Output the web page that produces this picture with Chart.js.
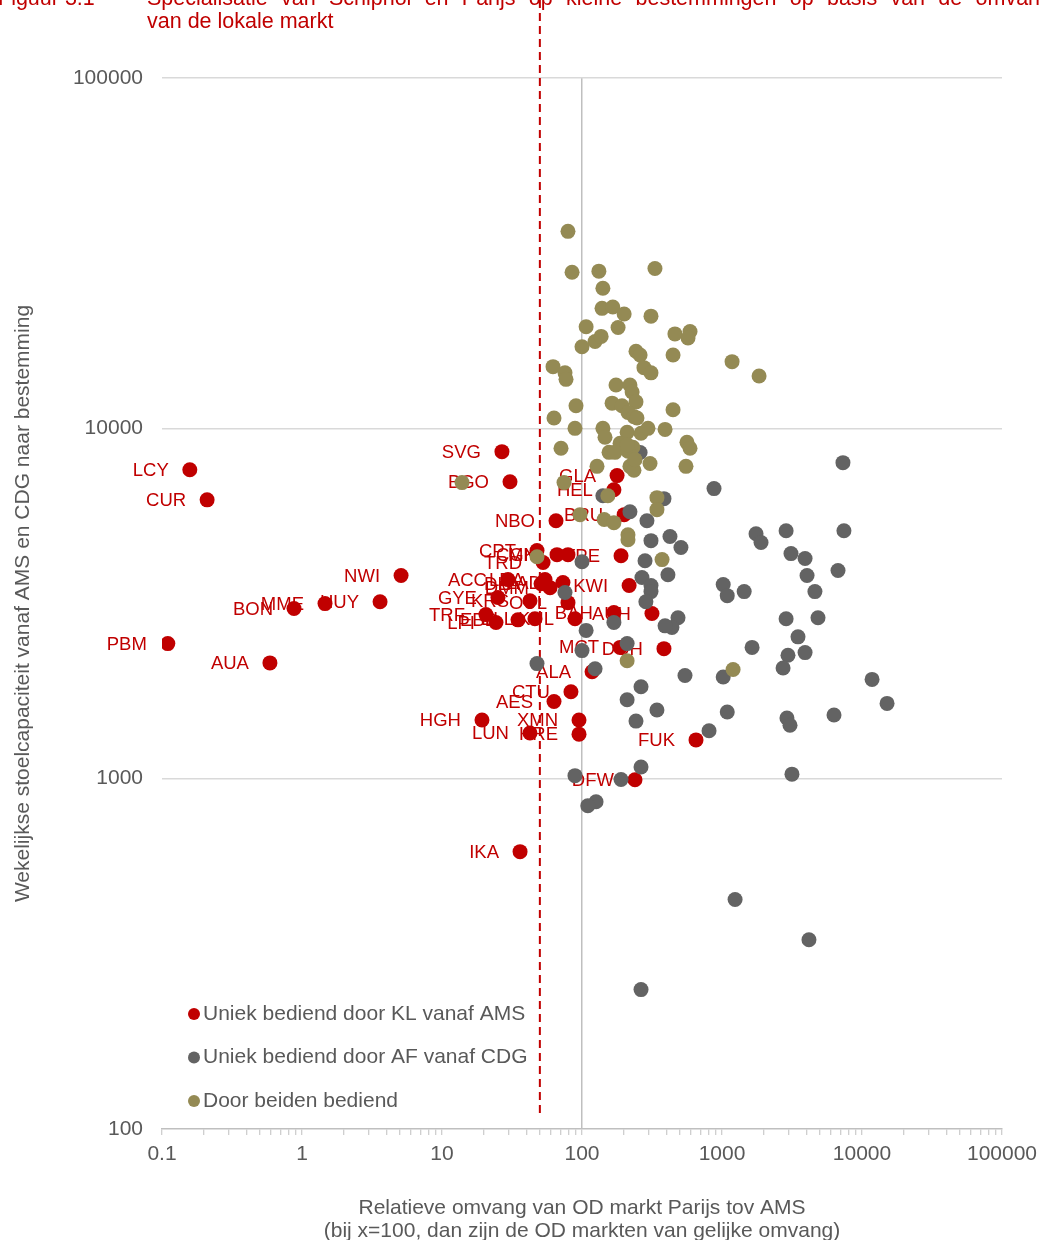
<!DOCTYPE html>
<html lang="nl">
<head>
<meta charset="utf-8">
<title>Specialisatie van Schiphol en Parijs</title>
<script src="https://cdn.jsdelivr.net/npm/chart.js@4.4.1/dist/chart.umd.min.js"></script>
<style>
  html, body { margin: 0; padding: 0; background: #ffffff; }
  .wrapper { width: 1040px; height: 1240px; position: relative; }
</style>
</head>
<body>
<div class="wrapper"><canvas id="chart"></canvas></div>
<script>
// KL: alleen vanaf AMS (met luchthavencode)
const klCodes = ["LCY","CUR","PBM","AUA","BON","MME","HUY","NWI","SVG","BGO","NBO","GLA","HEL","BRU","TPE","CPT","CGK","MNL","TRD","LBA","ACC","DMM","DLA","LAD","KWI","GYE","KRS","OUL","TRF","LPI","EBB","BLL","KUL","BAH","AUH","MCT","DOH","ALA","CTU","AES","HGH","XMN","LUN","HRE","FUK","DFW","IKA"];
const klX = [0.158,0.21,0.11,0.59,0.877,1.46,3.61,5.1,26.8,30.6,65.2,178,169,200,190,47.7,66.3,79.4,52.7,54.4,29.6,59.1,51.0,73.1,217,25.1,42.5,79.4,20.6,24.3,34.9,46.1,89.1,169,316,187,385,118,83.4,63.1,19.3,95.2,42.5,95.2,652,239,36.1];
const klY = [7620,6250,2430,2140,3060,3160,3200,3800,8580,7040,5450,7330,6680,5670,4330,4480,4360,4360,4140,3700,3700,3510,3600,3630,3560,3290,3220,3180,2940,2790,2840,2860,2860,2980,2960,2370,2350,2020,1770,1660,1470,1470,1350,1340,1290,993,619];

// AF: alleen vanaf CDG
const afX = [7310,877,220,385,291,141,311,425,509,1750,1900,2870,7430,3110,3920,6740,4050,4610,282,411,268,311,311,286,1020,1090,1440,100,75.6,485,439,392,169,107,2870,4850,3490,1640,2960,3920,2730,210,100,124,47.7,544,1020,11800,15100,264,210,343,1090,2910,3060,6310,243,808,264,3160,89.1,190,126,110,1240,4180,264,260];
const afY = [7980,6730,5780,6300,5450,6420,4780,4910,4570,5000,4720,5100,5100,4390,4250,3930,3800,3420,4190,3820,3750,3560,3420,3200,3580,3330,3420,4160,3400,2880,2700,2730,2790,2650,2860,2880,2540,2370,2250,2290,2070,2430,2320,2060,2130,1970,1950,1920,1640,1830,1680,1570,1550,1490,1420,1520,1460,1370,1080,1030,1020,995,859,837,452,347,250,8530];

// door beiden bediend
const bothX = [79.4,84.9,132,332,141,139,166,200,107,181,311,124,137,100,461,591,572,243,260,447,62.1,75.6,76.9,277,311,1180,1840,175,220,228,164,193,243,90.6,63.1,213,235,447,89.1,141,146,210,264,296,392,562,591,187,231,70.8,156,172,213,306,128,220,235,553,373,13.9,74.4,153,96.8,144,169,343,343,213,213,47.7,1200,210,210,239,247];
const bothY = [36500,27900,28100,28600,25100,22000,22200,21200,19500,19400,20900,17700,18300,17100,18600,18900,18100,16600,16200,16200,15000,14400,13800,14900,14400,15500,14100,13300,13300,12700,11800,11600,11900,11600,10700,11100,10800,11300,10000,10000,9430,9740,9680,10000,9930,9120,8770,9060,8830,8770,8540,8540,8600,7940,7790,7790,7590,7790,4220,7000,7000,6420,5670,5490,5380,6340,5860,4970,4810,4300,2050,2170,8980,8140,10700];

const seriesNames = ["Uniek bediend door KL vanaf AMS", "Uniek bediend door AF vanaf CDG", "Door beiden bediend"];
const seriesColors = ["#c00000", "#636363", "#948a54"];

const xDecades = [0.1, 1, 10, 100, 1000, 10000, 100000];
const yDecades = [100, 1000, 10000, 100000];
const minorSteps = [2, 3, 4, 5, 6, 7, 8, 9];
const splitX = 50;      // rode stippellijn
const splitYEnd = 110;  // onderkant stippellijn

const titleLine1 = "Specialisatie van Schiphol en Parijs op kleine bestemmingen op basis van de omvang";
const titleLine2 = "van de lokale markt";

const FONT = 'Arial, "Liberation Sans", sans-serif';
const GREY_TEXT = "#595959";
const RED = "#c00000";

// tick positions: decades plus minor steps in between
const xTicks = [];
xDecades.forEach((d, i) => {
  xTicks.push(d);
  if (i < xDecades.length - 1) minorSteps.forEach(m => xTicks.push(d * m));
});

const toPoints = (xs, ys) => xs.map((x, i) => ({ x: x, y: ys[i] }));

const dashLine = {
  id: "dashLine",
  beforeDatasetsDraw(chart) {
    const { ctx, scales: { x, y } } = chart;
    const px = x.getPixelForValue(splitX);
    ctx.save();
    ctx.strokeStyle = RED;
    ctx.lineWidth = 2;
    ctx.setLineDash([8, 5]);
    ctx.beginPath();
    ctx.moveTo(px, 0);
    ctx.lineTo(px, y.getPixelForValue(splitYEnd));
    ctx.stroke();
    ctx.restore();
  }
};

// codes links van de rode punten, onder de markers
const codeLabels = {
  id: "codeLabels",
  beforeDatasetsDraw(chart) {
    const ctx = chart.ctx;
    const meta = chart.getDatasetMeta(0);
    ctx.save();
    ctx.font = "18.5px " + FONT;
    ctx.fillStyle = RED;
    ctx.textAlign = "right";
    ctx.textBaseline = "middle";
    meta.data.forEach((pt, i) => ctx.fillText(klCodes[i], pt.x - 21, pt.y + 1));
    ctx.restore();
  }
};

const legendInside = {
  id: "legendInside",
  afterDraw(chart) {
    const ctx = chart.ctx;
    ctx.save();
    ctx.font = "21px " + FONT;
    ctx.textBaseline = "middle";
    ctx.textAlign = "left";
    seriesNames.forEach((name, i) => {
      const y = 1014 + i * 43.5;
      ctx.fillStyle = seriesColors[i];
      ctx.beginPath();
      ctx.arc(194, y, 6, 0, Math.PI * 2);
      ctx.fill();
      ctx.fillStyle = GREY_TEXT;
      ctx.fillText(name, 203, y);
    });
    ctx.restore();
  }
};

function drawJustified(ctx, text, x0, x1, y) {
  const words = text.split(" ");
  const total = words.reduce((s, w) => s + ctx.measureText(w).width, 0);
  const gap = (x1 - x0 - total) / (words.length - 1);
  let x = x0;
  words.forEach(w => {
    ctx.fillText(w, x, y);
    x += ctx.measureText(w).width + gap;
  });
}

const titleBlock = {
  id: "titleBlock",
  afterDraw(chart) {
    const ctx = chart.ctx;
    ctx.save();
    ctx.font = "21.5px " + FONT;
    ctx.fillStyle = RED;
    ctx.textBaseline = "alphabetic";
    ctx.textAlign = "left";
    ctx.fillText("Figuur 3.1", -2, 5);
    drawJustified(ctx, titleLine1, 147, 1052, 5);
    ctx.fillText(titleLine2, 147, 28);
    ctx.restore();
  }
};

new Chart(document.getElementById("chart"), {
  type: "scatter",
  data: {
    datasets: [
      { label: seriesNames[0], data: toPoints(klX, klY), backgroundColor: seriesColors[0], order: 3 },
      { label: seriesNames[1], data: toPoints(afX, afY), backgroundColor: seriesColors[1], order: 2 },
      { label: seriesNames[2], data: toPoints(bothX, bothY), backgroundColor: seriesColors[2], order: 1 }
    ]
  },
  options: {
    responsive: true,
    maintainAspectRatio: false,
    animation: false,
    layout: { padding: { top: 78, right: 38, left: 0, bottom: 0 } },
    elements: { point: { radius: 7.5, borderWidth: 0, hoverRadius: 7.5 } },
    plugins: { legend: { display: false }, tooltip: { enabled: false } },
    scales: {
      x: {
        type: "logarithmic",
        min: 0.1,
        max: 100000,
        afterBuildTicks: s => { s.ticks = xTicks.map(v => ({ value: v })); },
        afterFit: s => { s.height = 111; s.paddingLeft = 0; s.paddingRight = 0; },
        ticks: {
          autoSkip: false,
          maxRotation: 0,
          padding: 7,
          color: GREY_TEXT,
          font: { family: FONT, size: 21 },
          callback: v => (xDecades.includes(v) ? String(v) : "")
        },
        grid: {
          color: c => (c.tick && c.tick.value === 100 ? "#bfbfbf" : "rgba(0,0,0,0)"),
          lineWidth: 1.5,
          tickColor: "#bfbfbf",
          tickWidth: 1,
          tickLength: 6
        },
        border: { color: "#bfbfbf", width: 1.5 },
        title: {
          display: true,
          text: ["Relatieve omvang van OD markt Parijs tov AMS", "(bij x=100, dan zijn de OD markten van gelijke omvang)"],
          color: GREY_TEXT,
          font: { family: FONT, size: 21, lineHeight: 1.1 },
          padding: { top: 0, bottom: -3 }
        }
      },
      y: {
        type: "logarithmic",
        min: 100,
        max: 100000,
        afterBuildTicks: s => { s.ticks = yDecades.map(v => ({ value: v })); },
        afterFit: s => { s.width = 162; },
        ticks: {
          padding: 19,
          color: GREY_TEXT,
          font: { family: FONT, size: 21 },
          callback: v => String(v)
        },
        grid: {
          color: c => (c.tick && c.tick.value > 100 ? "#d9d9d9" : "rgba(0,0,0,0)"),
          lineWidth: 1.5,
          drawTicks: false
        },
        border: { display: false },
        title: {
          display: true,
          text: "Wekelijkse stoelcapaciteit vanaf AMS en CDG naar bestemming",
          color: GREY_TEXT,
          font: { family: FONT, size: 21 },
          padding: { top: 11, bottom: 0 }
        }
      }
    }
  },
  plugins: [dashLine, codeLabels, legendInside, titleBlock]
});
</script>
</body>
</html>
